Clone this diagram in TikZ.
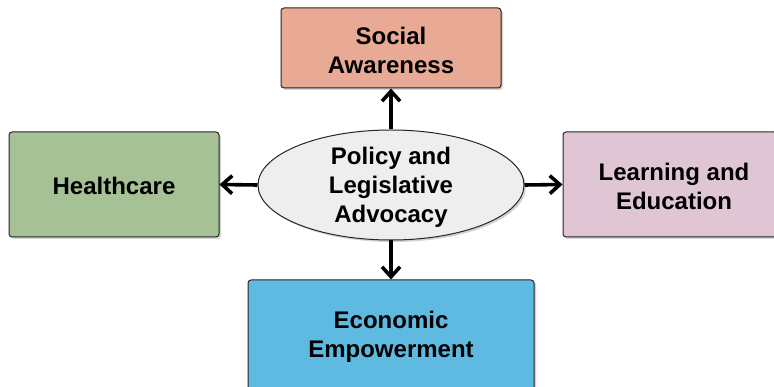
\documentclass[tikz,border=0pt]{standalone}
\usepackage{fontspec}
\setmainfont{Liberation Sans}
\usetikzlibrary{shapes.geometric,shadows,arrows.meta}
\definecolor{socialc}{HTML}{E8AA94}
\definecolor{healthc}{HTML}{A5C195}
\definecolor{learnc}{HTML}{E0C6D5}
\definecolor{econc}{HTML}{5FBAE2}
\definecolor{ellc}{HTML}{EEEEEE}
\tikzset{
  lbl/.style={font=\fontsize{24}{29}\selectfont\bfseries, align=center},
  box/.style={lbl, draw=black!85, line width=1pt, rounded corners=3pt, inner sep=0pt,
    drop shadow={opacity=0.35, shadow xshift=2pt, shadow yshift=-2pt}},
  hub/.style={lbl, ellipse, draw=black!85, line width=1pt, fill=ellc, inner sep=0pt,
    minimum width=266pt, minimum height=110pt,
    drop shadow={opacity=0.35, shadow xshift=2pt, shadow yshift=-2pt}},
  conn/.style={line width=3.6pt, -{Straight Barb[length=10pt,width=18pt,line width=3.6pt]}}
}
\begin{document}
\begin{tikzpicture}[x=1pt,y=-1pt]
\useasboundingbox (0,0) rectangle (774,387);
\node[box, fill=socialc, minimum width=220pt, minimum height=80pt] (social) at (391,48) {};
\node[lbl] (socialtext) at (391,50) {Social\\Awareness};
\node[box, fill=healthc, minimum width=210pt, minimum height=105pt] (health) at (114,184.5) {};
\node[lbl] (healthtext) at (114,186) {Healthcare};
\node[box, fill=learnc, minimum width=214pt, minimum height=105pt] (learn) at (670,184.5) {};
\node[lbl] (learntext) at (674,186) {Learning and\\Education};
\node[box, fill=econc, minimum width=286pt, minimum height=112pt] (econ) at (391,336) {};
\node[lbl] (econtext) at (391,337) {Economic\\Empowerment};
\node[hub] (hub) at (391,185) {};
\node[lbl] (hubtext) at (391,187) {Policy and\\Legislative\\Advocacy};
\draw[conn] (hub.north) -- (social.south);
\draw[conn] (hub.west) -- (health.east);
\draw[conn] (hub.east) -- (learn.west);
\draw[conn] (hub.south) -- (econ.north);
\end{tikzpicture}
\end{document}
